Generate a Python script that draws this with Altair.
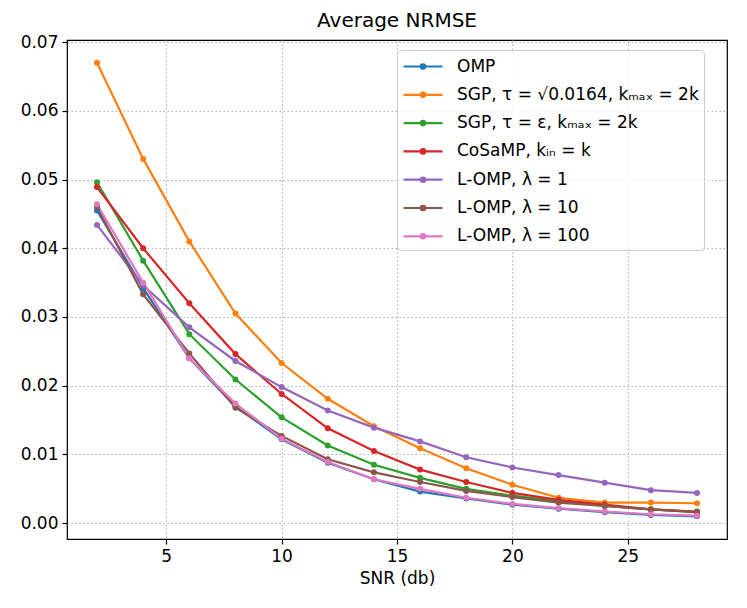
import altair as alt
import pandas as pd

snr = [2, 4, 6, 8, 10, 12, 14, 16, 18, 20, 22, 24, 26, 28]

series_names = [
    "OMP",
    "SGP, τ = √0.0164, kₘₐₓ = 2k",
    "SGP, τ = ε, kₘₐₓ = 2k",
    "CoSaMP, kᵢₙ = k",
    "L-OMP, λ = 1",
    "L-OMP, λ = 10",
    "L-OMP, λ = 100",
]

omp = [0.0455, 0.0342, 0.0240, 0.0170, 0.0122, 0.0088, 0.0064, 0.0046, 0.0036, 0.0027, 0.0021, 0.0016, 0.0012, 0.0010]
sgp_sqrt = [0.0670, 0.0530, 0.0410, 0.0305, 0.0233, 0.0181, 0.0141, 0.0109, 0.0080, 0.0056, 0.0037, 0.0030, 0.0030, 0.0029]
sgp_eps = [0.0496, 0.0382, 0.0275, 0.0209, 0.0154, 0.0113, 0.0085, 0.0066, 0.0050, 0.0040, 0.0032, 0.0025, 0.0020, 0.0016]
cosamp = [0.0489, 0.0400, 0.0320, 0.0246, 0.0188, 0.0138, 0.0105, 0.0078, 0.0060, 0.0044, 0.0034, 0.0027, 0.0020, 0.0016]
lomp1 = [0.0434, 0.0346, 0.0285, 0.0236, 0.0198, 0.0164, 0.0139, 0.0119, 0.0096, 0.0081, 0.0070, 0.0059, 0.0048, 0.0044]
lomp10 = [0.0460, 0.0333, 0.0247, 0.0168, 0.0127, 0.0093, 0.0074, 0.0060, 0.0047, 0.0038, 0.0030, 0.0025, 0.0020, 0.0017]
lomp100 = [0.0464, 0.0350, 0.0240, 0.0174, 0.0123, 0.0089, 0.0064, 0.0050, 0.0037, 0.0028, 0.0022, 0.0017, 0.0013, 0.0011]

colors = ["#1f77b4", "#ff7f0e", "#2ca02c", "#d62728", "#9467bd", "#8c564b", "#e377c2"]

all_series = [omp, sgp_sqrt, sgp_eps, cosamp, lomp1, lomp10, lomp100]
rows = []
for k, (name, vals) in enumerate(zip(series_names, all_series)):
    for x, v in zip(snr, vals):
        rows.append({"snr": x, "nrmse": v, "series": name, "order": k})
df = pd.DataFrame(rows)

FONT = "DejaVu Sans"
# line handle with a dot in its middle (unit = 10 px for symbolSize 400)
legend_symbol = "M-1,0H2.9M1.17,0A0.22,0.22,0,1,1,0.73,0A0.22,0.22,0,1,1,1.17,0Z"

color = alt.Color(
    "series:N",
    scale=alt.Scale(domain=series_names, range=colors),
    legend=alt.Legend(
        title=None,
        orient="none",
        legendX=330,
        legendY=10,
        symbolType=legend_symbol,
        symbolSize=400,
        symbolStrokeWidth=2.2,
        labelFont=FONT,
        labelFontSize=17,
        labelColor="black",
        labelLimit=500,
        labelOffset=32,
        rowPadding=8.3,
        padding=5,
        strokeColor="#cccccc",
        fillColor="rgba(255,255,255,0.8)",
        cornerRadius=4,
    ),
)

x = alt.X(
    "snr:Q",
    scale=alt.Scale(domain=[0.7, 29.3], nice=False, zero=False),
    axis=alt.Axis(title="SNR (db)", values=[5, 10, 15, 20, 25], format="d", titlePadding=6),
)
y = alt.Y(
    "nrmse:Q",
    scale=alt.Scale(domain=[-0.0023, 0.0703], nice=False, zero=False),
    axis=alt.Axis(title=None, values=[0, 0.01, 0.02, 0.03, 0.04, 0.05, 0.06, 0.07], format=".2f"),
)

base = alt.Chart(df)
lines = base.mark_line(strokeWidth=2.2).encode(x=x, y=y, color=color, detail="series:N", order="order:Q")
points = base.mark_point(filled=True, size=36, opacity=1).encode(
    x=x, y=y,
    color=alt.Color("series:N", scale=alt.Scale(domain=series_names, range=colors), legend=None),
)

chart = (
    alt.layer(lines, points)
    .properties(
        width=660,
        height=499,
        title=alt.TitleParams("Average NRMSE", font=FONT, fontSize=20, fontWeight="normal", color="black", offset=2),
        autosize=alt.AutoSizeParams(type="none"),
        padding={"left": 59, "top": 32, "right": 12, "bottom": 55},
    )
    .configure_view(stroke="black", strokeWidth=1.2, fill="white")
    .configure_axis(
        domain=False,
        labelFont=FONT,
        labelFontSize=17,
        labelColor="black",
        titleFont=FONT,
        titleFontSize=17,
        titleFontWeight="normal",
        titleColor="black",
        tickColor="black",
        tickSize=5,
        tickWidth=1.2,
        labelPadding=4,
        grid=True,
        gridColor="#b0b0b0",
        gridDash=[1.5, 2.5],
        gridWidth=1.1,
    )
)

chart.save("out.html", embed_options={"renderer": "svg", "actions": False})
